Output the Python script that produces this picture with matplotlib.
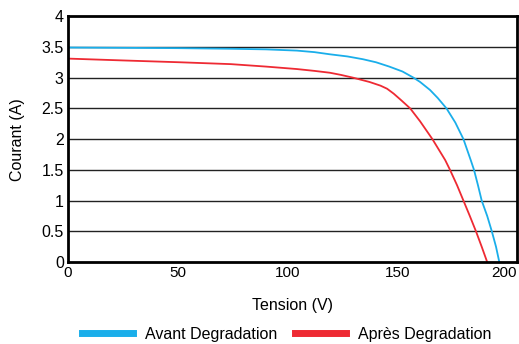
import matplotlib
matplotlib.use("Agg")
import matplotlib.pyplot as plt
from matplotlib.transforms import ScaledTranslation

plt.rcParams["font.family"] = ["Liberation Sans", "DejaVu Sans"]

# Courbe I-V avant degradation
v_avant = [0, 25, 50, 74, 90, 104, 112, 119, 127, 134, 140, 146, 152, 157, 160, 164.5, 168,
           172, 176, 179.7, 183, 184.5, 186.3, 188, 190.5, 192.6, 194.5, 196]
i_avant = [3.49, 3.485, 3.48, 3.47, 3.46, 3.44, 3.415, 3.38, 3.345, 3.30, 3.25, 3.18, 3.10,
           3.0, 2.93, 2.80, 2.67, 2.5, 2.27, 2.0, 1.66, 1.5, 1.25, 1.0, 0.75, 0.5, 0.25, 0.0]

# Courbe I-V apres degradation
v_apres = [0, 25, 51, 74, 90, 104, 112, 119, 124, 129.5, 137, 142, 145, 148, 151.5, 155.5,
           160, 165.6, 171.4, 173.6, 176.8, 179.7, 182.6, 185.4, 188, 190.5]
i_apres = [3.31, 3.28, 3.25, 3.22, 3.18, 3.14, 3.11, 3.08, 3.045, 3.0, 2.93, 2.87, 2.82,
           2.74, 2.63, 2.5, 2.29, 2.0, 1.66, 1.5, 1.25, 1.0, 0.75, 0.5, 0.25, 0.0]

x_ticks = [0, 50, 100, 150, 200]
y_ticks = [0, 0.5, 1, 1.5, 2, 2.5, 3, 3.5, 4]
y_labels = ["0", "0.5", "1", "1.5", "2", "2.5", "3", "3.5", "4"]

fig = plt.figure(figsize=(5.19, 3.44), dpi=100)
ax = fig.add_axes([0.131, 0.238, 0.865, 0.715])

ax.plot(v_avant, i_avant, color="#1aaeea", lw=1.3, label="Avant Degradation")
ax.plot(v_apres, i_apres, color="#ee2a33", lw=1.3, label="Après Degradation")

for y in y_ticks[1:-1]:
    ax.axhline(y, color="#222222", lw=1.0, zorder=0)

ax.set_xlim(0, 204)
ax.set_ylim(0, 4)
ax.set_xticks(x_ticks)
ax.set_yticks(y_ticks)
ax.set_yticklabels(y_labels)
ax.tick_params(length=0, labelsize=11.5, pad=3)
ax.tick_params(axis="x", labelsize=11)
for s in ax.spines.values():
    s.set_linewidth(2)
    s.set_color("black")

# keep "200" inside the figure
last = ax.get_xticklabels()[-1]
last.set_transform(last.get_transform() + ScaledTranslation(-3 / 72, 0, fig.dpi_scale_trans))

ax.set_xlabel("Tension (V)", fontsize=11.5, labelpad=13)
ax.set_ylabel("Courant (A)", fontsize=11.5, labelpad=12)

leg = fig.legend(loc="lower center", bbox_to_anchor=(0.553, -0.035), ncol=2,
                 frameon=False, fontsize=11.5, handlelength=3.2,
                 columnspacing=1.1, handletextpad=0.75)
for line in leg.get_lines():
    line.set_linewidth(5)

fig.savefig("out.png", dpi=100)
